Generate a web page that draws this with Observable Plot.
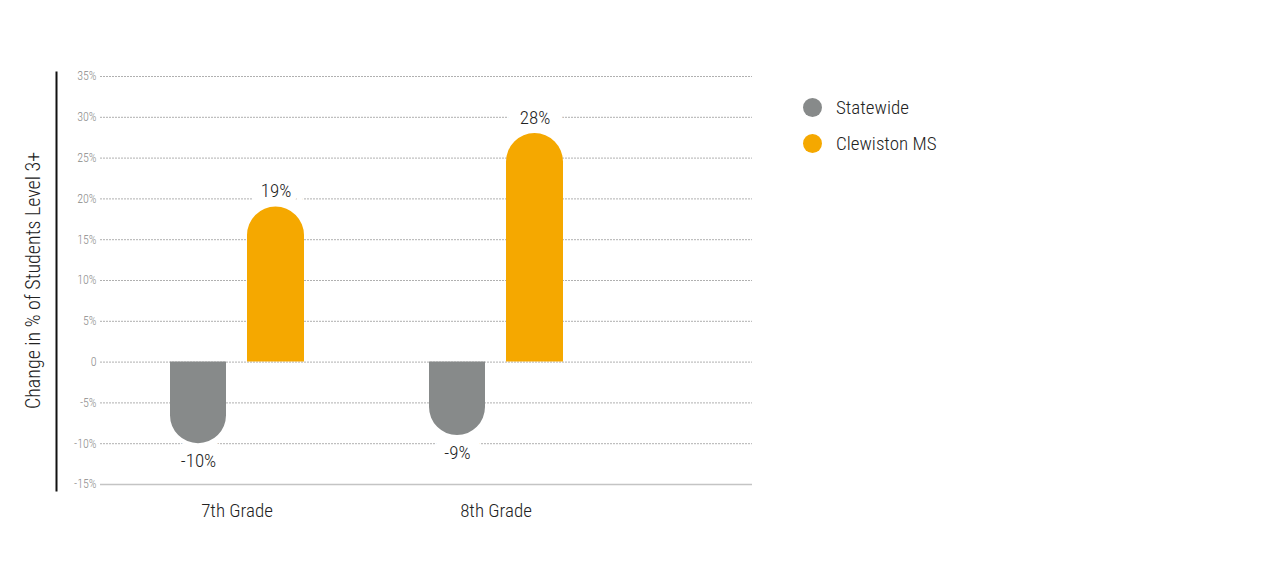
<!DOCTYPE html>
<html>
<head>
<meta charset="utf-8">
<script src="https://cdn.jsdelivr.net/npm/d3@7"></script>
<script src="https://cdn.jsdelivr.net/npm/@observablehq/plot@0.6"></script>
<style>
  html, body { margin: 0; padding: 0; background: #fff; }
  #wrap { position: relative; width: 1280px; height: 564px; font-family: "Roboto Condensed", "Liberation Sans Narrow", "DejaVu Sans Condensed", sans-serif; font-stretch: condensed; }
  #legend { position: absolute; left: 803px; top: 89px; }
  .item { display: flex; align-items: center; height: 36px; font-size: 19px; font-weight: 300; color: #222; }
  .sw { width: 19px; height: 19px; border-radius: 50%; margin-right: 14px; }
</style>
</head>
<body>
<div id="wrap"></div>
<script>
const grades = ["7th Grade", "8th Grade"];
const series = ["Statewide", "Clewiston MS"];
const colors = ["#878a8a", "#f5a800"];
const statewide = [-10, -9];
const clewiston = [19, 28];
const yTicks = [-15, -10, -5, 0, 5, 10, 15, 20, 25, 30, 35];

const sData = grades.map((g, i) => ({grade: g, value: statewide[i]}));
const cData = grades.map((g, i) => ({grade: g, value: clewiston[i]}));
const fmt = d => (d === 0 ? "0" : d + "%");
const font = '"Roboto Condensed", "Liberation Sans Narrow", "DejaVu Sans Condensed", sans-serif';

const chart = Plot.plot({
  width: 1280,
  height: 564,
  marginLeft: 100,
  marginRight: 528,
  marginTop: 76,
  marginBottom: 80,
  style: {fontFamily: font, background: "#fff", fontWeight: 300},
  x: {domain: grades, paddingInner: 0, paddingOuter: 0.254, align: 0.05},
  y: {domain: [-15, 35]},
  marks: [
    Plot.gridY(yTicks.filter(d => d > -15), {stroke: "#b0b0b0", strokeOpacity: 1, strokeDasharray: "2,1", strokeWidth: 1}),
    Plot.ruleY([-15], {stroke: "#c4c4c4", strokeWidth: 1.5}),
    Plot.frame({anchor: "left", dx: -44, insetTop: -4, insetBottom: -6, stroke: "#111", strokeWidth: 2}),
    Plot.axisY({ticks: yTicks, tickSize: 0, tickPadding: 4, tickFormat: fmt, fontSize: 12, fill: "#8a8a8a", label: null}),
    Plot.axisX({tickSize: 0, tickPadding: 19, fontSize: 19, fill: "#222", label: null}),
    Plot.text(["Change in % of Students Level 3+"], {frameAnchor: "left", textAnchor: "middle", rotate: -90, dx: -67, fontSize: 20, fill: "#222"}),
    Plot.text(sData, {x: "grade", y: "value", text: d => d.value + "%", dx: -38.5, dy: 17, fontSize: 19, fill: "#222", stroke: "white", strokeWidth: 26}),
    Plot.text(cData, {x: "grade", y: "value", text: d => d.value + "%", dx: 39, dy: -16, fontSize: 19, fill: "#222", stroke: "white", strokeWidth: 26}),
    Plot.barY(sData, {x: "grade", y1: 0, y2: "value", fill: colors[0], insetLeft: 63, insetRight: 140, ry2: 30}),
    Plot.barY(cData, {x: "grade", y1: 0, y2: "value", fill: colors[1], insetLeft: 140, insetRight: 62, ry1: 30})
  ]
});

const wrap = document.getElementById("wrap");
wrap.appendChild(chart);
const legend = document.createElement("div");
legend.id = "legend";
series.forEach((s, i) => {
  const item = document.createElement("div");
  item.className = "item";
  const sw = document.createElement("span");
  sw.className = "sw";
  sw.style.background = colors[i];
  const t = document.createElement("span");
  t.textContent = s;
  item.appendChild(sw);
  item.appendChild(t);
  legend.appendChild(item);
});
wrap.appendChild(legend);
</script>
</body>
</html>
